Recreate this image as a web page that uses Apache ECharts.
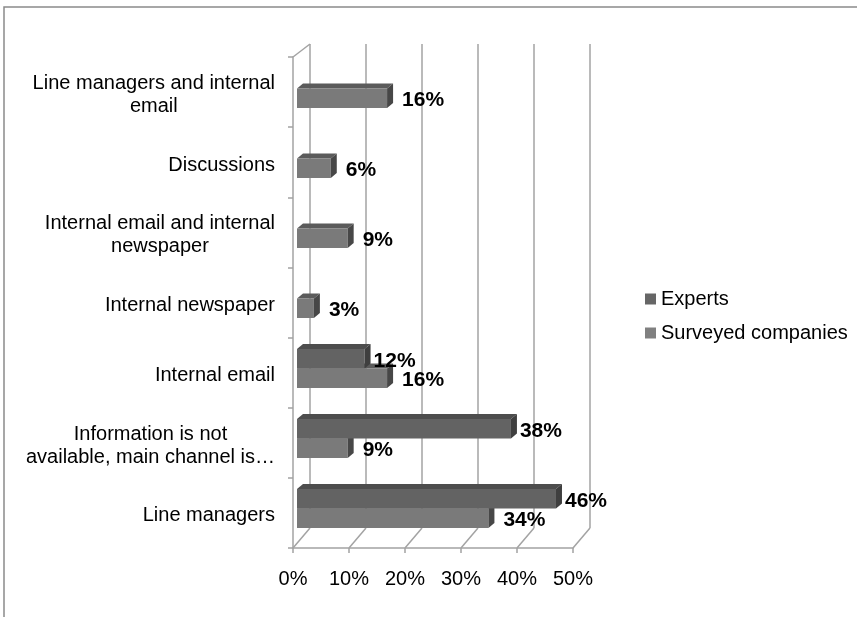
<!DOCTYPE html>
<html>
<head>
<meta charset="utf-8">
<script src="https://cdn.jsdelivr.net/npm/echarts@6/dist/echarts.min.js"></script>
<style>
  html, body { margin: 0; padding: 0; background: #fff; }
  #chart { width: 857px; height: 617px; }
</style>
</head>
<body>
<div id="chart"></div>
<script>
// Categories listed bottom to top (category axis starts at the bottom)
const categories = [
  'Line managers',
  'Information is not\navailable, main channel is…',
  'Internal email',
  'Internal newspaper',
  'Internal email and internal\nnewspaper',
  'Discussions',
  'Line managers and internal\nemail'
];
const experts = [46, 38, 12, null, null, null, null];
const surveyed = [34, 9, 16, 3, 9, 6, 16];
const tickValues = [0, 10, 20, 30, 40, 50];

const FONT = '"Liberation Sans", Arial, sans-serif';
const GRID_GRAY = '#a3a3a3';

// Pseudo-3D bar colours: front face, top face, side face
const palette = {
  Experts: { face: '#636363', top: '#4d4d4d', side: '#3f3f3f', legend: '#666666' },
  'Surveyed companies': { face: '#7a7a7a', top: '#5b5b5b', side: '#474747', legend: '#808080' }
};

function toItems(values) {
  const out = [];
  values.forEach((v, i) => { if (v != null) out.push([v, i]); });
  return out;
}

function makeRender(name, upper) {
  const c = palette[name];
  return function (params, api) {
    const cat = api.value(1);
    const val = api.value(0);
    const p0 = api.coord([0, cat]);
    const p1 = api.coord([val, cat]);
    const band = api.size([0, 1])[1];
    const h = band * 0.279;
    const dx = 6, dy = 5;
    const top = upper ? p0[1] - h : p0[1];
    const bottom = top + h;
    const x0 = p0[0], x1 = p1[0];
    return {
      type: 'group',
      children: [
        { type: 'polygon', shape: { points: [[x0, top], [x1, top], [x1 + dx, top - dy], [x0 + dx, top - dy]] }, style: { fill: c.top } },
        { type: 'rect', shape: { x: x0, y: top, width: x1 - x0, height: h }, style: { fill: c.face } },
        { type: 'polygon', shape: { points: [[x1, top], [x1 + dx, top - dy], [x1 + dx, bottom - dy], [x1, bottom]] }, style: { fill: c.side } },
        {
          type: 'text',
          style: {
            text: val + '%',
            x: x1 + dx + (upper ? 3 : 9),
            y: top + h / 2 + 2,
            verticalAlign: 'middle',
            align: 'left',
            fill: '#000',
            font: 'bold 21px ' + FONT
          }
        }
      ]
    };
  };
}

const chart = echarts.init(document.getElementById('chart'), null, { renderer: 'canvas' });

const option = {
  backgroundColor: '#fff',
  animation: false,
  textStyle: { fontFamily: FONT },
  grid: [
    // back wall (vertical gridlines)
    { left: 310, top: 44, width: 280, height: 484 },
    // front frame (axes and labels)
    { left: 293, top: 57, width: 280, height: 491 },
    // bar plane
    { left: 297, top: 53.5, width: 281.5, height: 490 }
  ],
  xAxis: [
    {
      gridIndex: 0, type: 'value', min: 0, max: 50, interval: 10,
      axisLine: { show: false }, axisTick: { show: false }, axisLabel: { show: false },
      splitLine: { show: true, lineStyle: { color: GRID_GRAY, width: 1.5 } }
    },
    {
      gridIndex: 1, type: 'value', min: 0, max: 50, interval: 10,
      axisLine: { show: true, lineStyle: { color: GRID_GRAY, width: 1.5 } },
      axisTick: { show: true, length: 5, lineStyle: { color: GRID_GRAY, width: 1.5 } },
      axisLabel: { formatter: '{value}%', fontSize: 20, color: '#000', margin: 21, fontFamily: FONT },
      splitLine: { show: false }
    },
    {
      gridIndex: 2, type: 'value', min: 0, max: 50, interval: 10, show: false
    }
  ],
  yAxis: [
    { gridIndex: 0, type: 'category', data: categories, show: false },
    {
      gridIndex: 1, type: 'category', data: categories,
      axisLine: { show: true, lineStyle: { color: GRID_GRAY, width: 1.5 } },
      axisTick: { show: true, length: 5, lineStyle: { color: GRID_GRAY, width: 1.5 } },
      axisLabel: {
        fontSize: 20, color: '#000', margin: 18, align: 'right', lineHeight: 23, fontFamily: FONT,
        padding: [6, 0, 0, 0],
        formatter: function (v) {
          return v.split('\n').map(s => '{c|' + s + '}').join('\n');
        },
        rich: { c: { align: 'center', fontSize: 20, lineHeight: 23, color: '#000', fontFamily: FONT } }
      }
    },
    { gridIndex: 2, type: 'category', data: categories, show: false }
  ],
  legend: {
    orient: 'vertical',
    left: 640,
    top: 284,
    itemWidth: 11,
    itemHeight: 11,
    itemGap: 14,
    icon: 'rect',
    textStyle: { fontSize: 20, color: '#000', fontFamily: FONT },
    data: ['Experts', 'Surveyed companies']
  },
  series: [
    {
      name: 'Experts', type: 'custom', xAxisIndex: 2, yAxisIndex: 2, z: 4,
      itemStyle: { color: palette.Experts.legend },
      encode: { x: 0, y: 1 },
      renderItem: makeRender('Experts', true),
      data: toItems(experts)
    },
    {
      name: 'Surveyed companies', type: 'custom', xAxisIndex: 2, yAxisIndex: 2, z: 3,
      itemStyle: { color: palette['Surveyed companies'].legend },
      encode: { x: 0, y: 1 },
      renderItem: makeRender('Surveyed companies', false),
      data: toItems(surveyed)
    }
  ]
};

chart.setOption(option);

// Depth connectors between the back wall and the front frame, placed from the axes' own scales
function drawFrame() {
  const lines = [];
  const g0 = chart.getModel().getComponent('grid', 0).coordinateSystem.getRect();
  const g1 = chart.getModel().getComponent('grid', 1).coordinateSystem.getRect();
  tickValues.forEach(v => {
    const xb = chart.convertToPixel({ xAxisIndex: 0 }, v);
    const xf = chart.convertToPixel({ xAxisIndex: 1 }, v);
    lines.push({
      type: 'line', z: 1,
      shape: { x1: xb, y1: g0.y + g0.height, x2: xf, y2: g1.y + g1.height },
      style: { stroke: GRID_GRAY, lineWidth: 1.5 }
    });
  });
  // top-left edge of the side wall
  lines.push({
    type: 'line', z: 1,
    shape: { x1: g0.x, y1: g0.y, x2: g1.x, y2: g1.y },
    style: { stroke: GRID_GRAY, lineWidth: 1.5 }
  });
  // outer chart frame
  lines.push({
    type: 'rect', z: 0,
    shape: { x: 4, y: 7, width: 900, height: 700 },
    style: { fill: null, stroke: '#8a8a8a', lineWidth: 1.5 }
  });
  chart.setOption({ graphic: lines });
}
drawFrame();
</script>
</body>
</html>
